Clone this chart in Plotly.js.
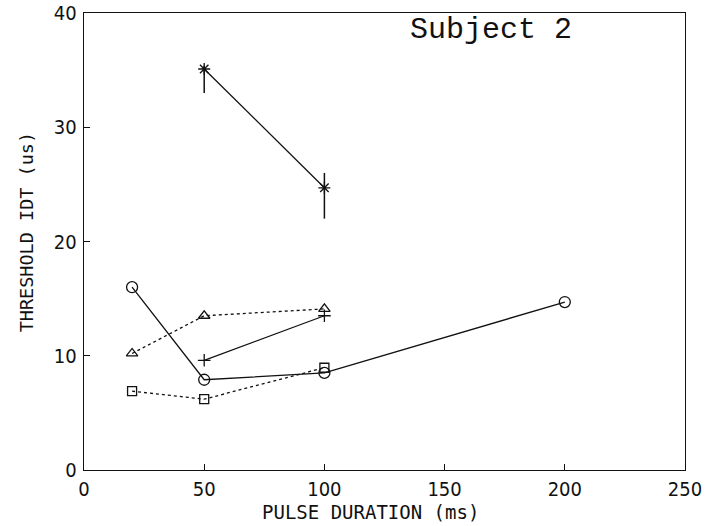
<!DOCTYPE html>
<html>
<head>
<meta charset="utf-8">
<script src="https://cdn.plot.ly/plotly-3.0.1.min.js"></script>
<style>html,body{margin:0;padding:0;background:#fff;}#chart{width:707px;height:526px;}</style>
</head>
<body>
<div id="chart"></div>
<script>
// Pulse durations (ms) and threshold IDT (us) per condition
const circleX = [20, 50, 100, 200];
const circleY = [16.0, 7.9, 8.5, 14.7];

const triangleX = [20, 50, 100];
const triangleY = [10.2, 13.5, 14.1];

const plusX = [50, 100];
const plusY = [9.6, 13.5];

const squareX = [20, 50, 100];
const squareY = [6.9, 6.2, 8.95];

const starX = [50, 100];
const starY = [35.1, 24.7];
const starErrPlus = [0.3, 1.3];
const starErrMinus = [2.1, 2.7];

const xTicks = [0, 50, 100, 150, 200, 250];
const yTicks = [0, 10, 20, 30, 40];

const tickFont = {family: 'Liberation Sans Narrow, DejaVu Sans Condensed, Arial Narrow, sans-serif', size: 20, color: '#111'};
const monoFont = 'DejaVu Sans Mono, Liberation Mono, monospace';

function trace(x, y, symbol, dash, size) {
  return {
    x: x, y: y, type: 'scatter', mode: 'lines+markers',
    line: {color: '#111', width: 1.3, dash: dash},
    marker: {symbol: symbol, size: size, color: '#111', line: {color: '#111', width: 1.3}},
    showlegend: false
  };
}

const data = [
  trace(circleX, circleY, 'circle-open', 'solid', 11),
  trace(triangleX, triangleY, 'triangle-up-open', 'dot', 10),
  trace(plusX, plusY, 'cross-thin-open', 'solid', 9),
  trace(squareX, squareY, 'square-open', 'dot', 9),
  Object.assign(trace(starX, starY, 'asterisk-open', 'solid', 10), {
    error_y: {type: 'data', symmetric: false, array: starErrPlus, arrayminus: starErrMinus,
              color: '#111', thickness: 1.5, width: 0}
  })
];

const layout = {
  width: 707, height: 526,
  margin: {l: 84, r: 22, t: 13, b: 56},
  paper_bgcolor: '#fff', plot_bgcolor: '#fff',
  xaxis: {
    range: [0, 250], tickvals: xTicks, ticktext: xTicks.map(String),
    ticks: 'inside', ticklen: 6, tickcolor: '#111', tickwidth: 1,
    showline: true, linecolor: '#111', linewidth: 1.3, mirror: true,
    showgrid: false, zeroline: false, tickfont: tickFont, ticklabelstandoff: 1
  },
  yaxis: {
    range: [0, 40], tickvals: yTicks, ticktext: yTicks.map(String),
    ticks: 'inside', ticklen: 6, tickcolor: '#111', tickwidth: 1,
    showline: true, linecolor: '#111', linewidth: 1.3, mirror: true,
    showgrid: false, zeroline: false, tickfont: tickFont, ticklabelstandoff: 2
  },
  annotations: [
    {
      text: 'Subject 2', xref: 'paper', yref: 'paper', x: 0.677, y: 0.962,
      xanchor: 'center', yanchor: 'middle', showarrow: false,
      font: {family: 'Liberation Mono, DejaVu Sans Mono, monospace', size: 30, color: '#111'}
    },
    {
      text: 'PULSE DURATION (ms)', xref: 'paper', yref: 'paper', x: 0.476, y: -0.092,
      xanchor: 'center', yanchor: 'middle', showarrow: false,
      font: {family: monoFont, size: 19, color: '#111'}
    },
    {
      text: 'THRESHOLD IDT (us)', xref: 'paper', yref: 'paper', x: -0.0965, y: 0.52,
      xanchor: 'center', yanchor: 'middle', showarrow: false, textangle: -90,
      font: {family: monoFont, size: 18.5, color: '#111'}
    }
  ]
};

Plotly.newPlot('chart', data, layout, {displayModeBar: false, staticPlot: true});
</script>
</body>
</html>
